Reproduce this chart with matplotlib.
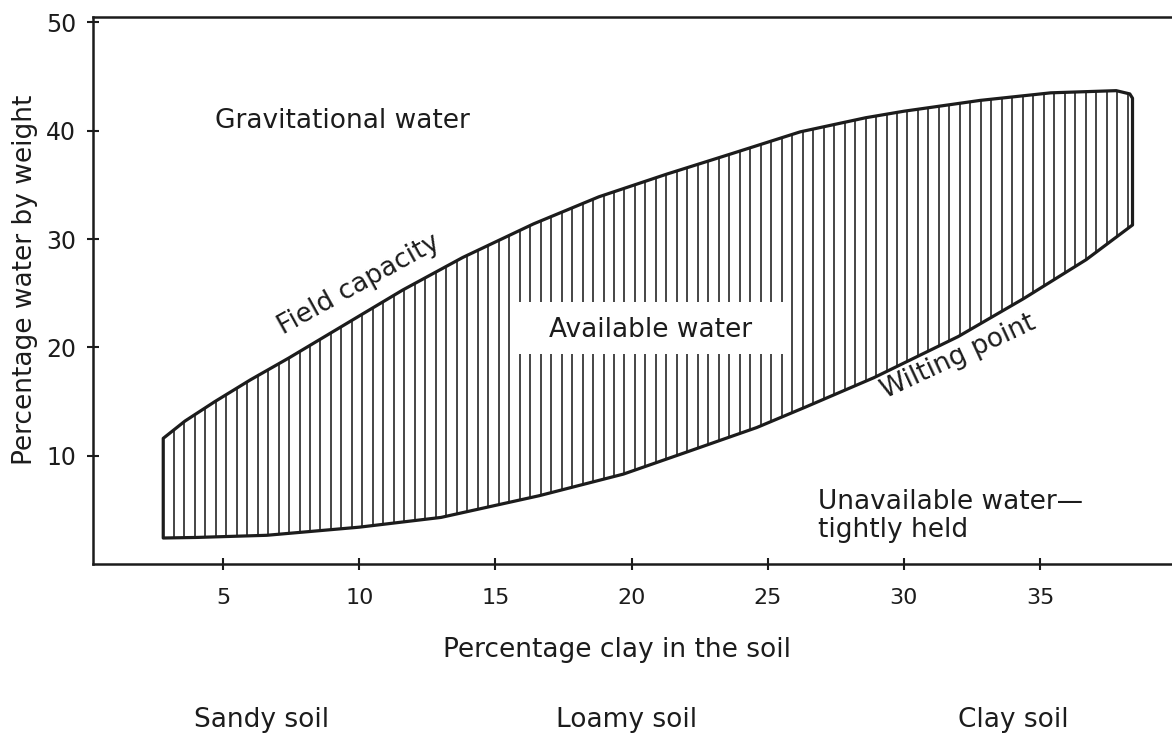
import matplotlib
matplotlib.use("Agg")
import numpy as np
import matplotlib.pyplot as plt
from matplotlib.patches import Rectangle

# field capacity (upper) and wilting point (lower) curves, % clay vs % water
fc_clay = [2.8, 3.6, 4.7, 6.0, 7.4, 9.4, 11.6, 13.8, 16.4, 18.8, 21.3, 23.7,
           26.2, 28.6, 30.0, 32.8, 35.4, 37.8, 38.3, 38.4]
fc_water = [11.6, 13.2, 15.0, 17.0, 19.0, 22.0, 25.3, 28.3, 31.4, 33.9, 36.0, 37.9,
            39.9, 41.2, 41.8, 42.8, 43.5, 43.7, 43.4, 43.0]
wp_clay = [2.8, 4.0, 6.6, 10.0, 13.0, 16.6, 19.7, 22.1, 24.6, 26.4, 28.9, 32.0,
           34.4, 36.7, 38.4]
wp_water = [2.4, 2.45, 2.65, 3.4, 4.3, 6.3, 8.3, 10.4, 12.6, 14.5, 17.2, 21.0,
            24.5, 28.1, 31.3]

x_ticks = [5, 10, 15, 20, 25, 30, 35]
y_ticks = [10, 20, 30, 40, 50]
soil_names = ["Sandy soil", "Loamy soil", "Clay soil"]

ink = "#1c1c1c"
plt.rcParams["font.family"] = ["DejaVu Sans"]

fig = plt.figure(figsize=(11.72, 7.36), dpi=100)
ax = fig.add_axes([93 / 1172, 1 - 564 / 736, 1 - 93 / 1172, (564 - 17) / 736])

# closed band between the two curves
band_x = fc_clay + wp_clay[::-1]
band_y = fc_water + wp_water[::-1]
band = ax.fill(band_x, band_y, facecolor="none", edgecolor=ink,
               linewidth=2.3, joinstyle="round", zorder=3)[0]

# vertical shading lines, clipped to the band
shade_x = np.arange(2.8, 38.5, 0.385)
ax.vlines(shade_x, 0, 50, colors="#262626", linewidth=1.2, zorder=2,
          clip_path=band)

ax.add_patch(Rectangle((15.6, 19.4), 10.2, 4.8, facecolor="white",
                       edgecolor="none", zorder=2.5))

ax.set_xlim(0.22, 39.85)
ax.set_ylim(0, 50.5)
ax.set_xticks(x_ticks)
ax.set_yticks(y_ticks)
ax.tick_params(direction="inout", length=8, width=1.5, color=ink,
               labelsize=16, labelcolor=ink)
ax.tick_params(axis="x", pad=13)
ax.tick_params(axis="y", labelsize=17, pad=8)
ax.spines["right"].set_visible(False)
for side in ("left", "bottom", "top"):
    ax.spines[side].set_linewidth(1.8)
    ax.spines[side].set_color(ink)

txt = dict(fontsize=19, color=ink)
ax.text(4.7, 40.9, "Gravitational water", ha="left", va="center", **txt)
ax.text(10.0, 25.8, "Field capacity", ha="center", va="center",
        rotation=29, rotation_mode="anchor", **txt)
ax.text(20.7, 21.6, "Available water", ha="center", va="center", zorder=4, **txt)
ax.text(32.0, 19.1, "Wilting point", ha="center", va="center",
        rotation=25, rotation_mode="anchor", **txt)
ax.text(26.85, 4.4, "Unavailable water\u2014\ntightly held", ha="left",
        va="center", linespacing=1.1, **txt)

fig.text(25 / 1172, 1 - 280 / 736, "Percentage water by weight", rotation=90,
         ha="center", va="center", **txt)
fig.text(617 / 1172, 1 - 650 / 736, "Percentage clay in the soil",
         ha="center", va="center", **txt)
for name, px in zip(soil_names, [262, 627, 1013]):
    fig.text(px / 1172, 1 - 720 / 736, name, ha="center", va="center", **txt)

fig.savefig("out.png", dpi=100, facecolor="white")
